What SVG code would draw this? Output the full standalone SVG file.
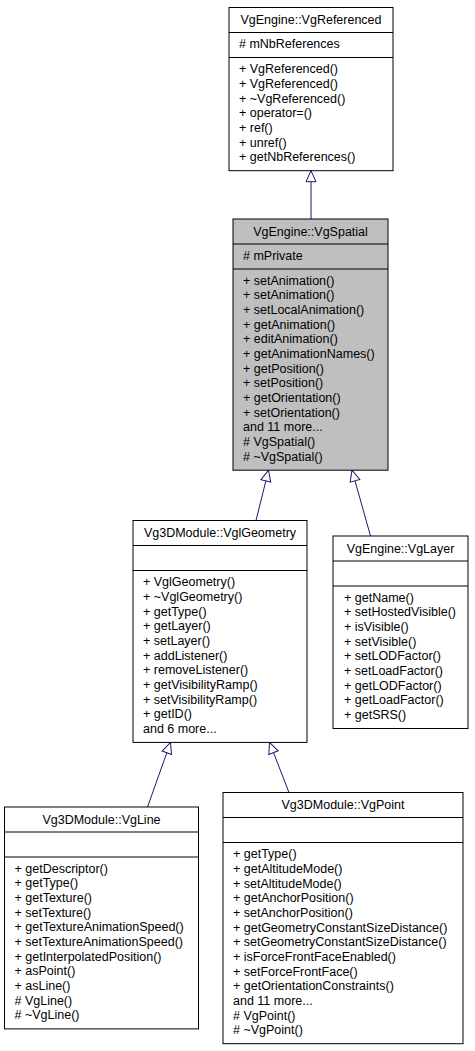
<svg xmlns="http://www.w3.org/2000/svg" width="475" height="1051" viewBox="0 0 475 1051">
<style>
.box{fill:#ffffff;stroke:#000000;stroke-width:1}
.hl{fill:#bfbfbf}
.sep{stroke:#000000;stroke-width:1}
text{font-family:"Liberation Sans",Arial,Helvetica,sans-serif;font-size:12.5px;fill:#000000}
.t{text-anchor:middle}
.edge{stroke:#191970;stroke-width:1;fill:none;marker-end:url(#tri)}
</style>
<defs>
<marker id="tri" viewBox="0 0 11 10" refX="11" refY="5" markerWidth="11" markerHeight="10" markerUnits="userSpaceOnUse" orient="auto" overflow="visible">
<path d="M0,0 L11,5 L0,10 Z" fill="#ffffff" stroke="#191970" stroke-width="1"/>
</marker>
</defs>
<rect width="475" height="1051" fill="#ffffff"/>

<g id="connectors">
<line class="edge" x1="311" y1="219" x2="311" y2="170.7"/>
<line class="edge" x1="256" y1="520.5" x2="268.5" y2="470.2"/>
<line class="edge" x1="370.5" y1="536" x2="352" y2="470.2"/>
<line class="edge" x1="147.5" y1="807" x2="170.5" y2="742.4"/>
<line class="edge" x1="289" y1="792.5" x2="269.5" y2="742.4"/>
</g>

<g id="VgReferenced">
<rect class="box" x="229" y="7.5" width="164" height="163.2"/>
<line class="sep" x1="229" y1="32.5" x2="393" y2="32.5"/>
<line class="sep" x1="229" y1="57.5" x2="393" y2="57.5"/>
<text class="t" x="311" y="24">VgEngine::VgReferenced</text>
<text x="239" y="48.2"># mNbReferences</text>
<text x="239" y="73.2">+ VgReferenced()</text>
<text x="239" y="87.87">+ VgReferenced()</text>
<text x="239" y="102.54">+ ~VgReferenced()</text>
<text x="239" y="117.21">+ operator=()</text>
<text x="239" y="131.88">+ ref()</text>
<text x="239" y="146.55">+ unref()</text>
<text x="239" y="161.22">+ getNbReferences()</text>
</g>

<g id="VgSpatial">
<rect class="box hl" x="233" y="219" width="155" height="251.2"/>
<line class="sep" x1="233" y1="244" x2="388" y2="244"/>
<line class="sep" x1="233" y1="269" x2="388" y2="269"/>
<text class="t" x="310.5" y="235.5">VgEngine::VgSpatial</text>
<text x="243" y="259.7"># mPrivate</text>
<text x="243" y="284.7">+ setAnimation()</text>
<text x="243" y="299.37">+ setAnimation()</text>
<text x="243" y="314.04">+ setLocalAnimation()</text>
<text x="243" y="328.71">+ getAnimation()</text>
<text x="243" y="343.38">+ editAnimation()</text>
<text x="243" y="358.05">+ getAnimationNames()</text>
<text x="243" y="372.72">+ getPosition()</text>
<text x="243" y="387.39">+ setPosition()</text>
<text x="243" y="402.06">+ getOrientation()</text>
<text x="243" y="416.73">+ setOrientation()</text>
<text x="243" y="431.4">and 11 more...</text>
<text x="243" y="446.07"># VgSpatial()</text>
<text x="243" y="460.74"># ~VgSpatial()</text>
</g>

<g id="VglGeometry">
<rect class="box" x="133" y="520.5" width="174" height="221.9"/>
<line class="sep" x1="133" y1="545.5" x2="307" y2="545.5"/>
<line class="sep" x1="133" y1="570.5" x2="307" y2="570.5"/>
<text class="t" x="220" y="537">Vg3DModule::VglGeometry</text>
<text x="143" y="586.2">+ VglGeometry()</text>
<text x="143" y="600.87">+ ~VglGeometry()</text>
<text x="143" y="615.54">+ getType()</text>
<text x="143" y="630.21">+ getLayer()</text>
<text x="143" y="644.88">+ setLayer()</text>
<text x="143" y="659.55">+ addListener()</text>
<text x="143" y="674.22">+ removeListener()</text>
<text x="143" y="688.89">+ getVisibilityRamp()</text>
<text x="143" y="703.56">+ setVisibilityRamp()</text>
<text x="143" y="718.23">+ getID()</text>
<text x="143" y="732.9">and 6 more...</text>
</g>

<g id="VgLayer">
<rect class="box" x="333" y="536" width="135" height="192.5"/>
<line class="sep" x1="333" y1="561" x2="468" y2="561"/>
<line class="sep" x1="333" y1="586" x2="468" y2="586"/>
<text class="t" x="400.5" y="552.5">VgEngine::VgLayer</text>
<text x="344" y="601.7">+ getName()</text>
<text x="344" y="616.37">+ setHostedVisible()</text>
<text x="344" y="631.04">+ isVisible()</text>
<text x="344" y="645.71">+ setVisible()</text>
<text x="344" y="660.38">+ setLODFactor()</text>
<text x="344" y="675.05">+ setLoadFactor()</text>
<text x="344" y="689.72">+ getLODFactor()</text>
<text x="344" y="704.39">+ getLoadFactor()</text>
<text x="344" y="719.06">+ getSRS()</text>
</g>

<g id="VgLine">
<rect class="box" x="4.5" y="807" width="194" height="221.9"/>
<line class="sep" x1="4.5" y1="832" x2="198.5" y2="832"/>
<line class="sep" x1="4.5" y1="857" x2="198.5" y2="857"/>
<text class="t" x="101.5" y="823.5">Vg3DModule::VgLine</text>
<text x="14.5" y="872.7">+ getDescriptor()</text>
<text x="14.5" y="887.37">+ getType()</text>
<text x="14.5" y="902.04">+ getTexture()</text>
<text x="14.5" y="916.71">+ setTexture()</text>
<text x="14.5" y="931.38">+ getTextureAnimationSpeed()</text>
<text x="14.5" y="946.05">+ setTextureAnimationSpeed()</text>
<text x="14.5" y="960.72">+ getInterpolatedPosition()</text>
<text x="14.5" y="975.39">+ asPoint()</text>
<text x="14.5" y="990.06">+ asLine()</text>
<text x="14.5" y="1004.73"># VgLine()</text>
<text x="14.5" y="1019.4"># ~VgLine()</text>
</g>

<g id="VgPoint">
<rect class="box" x="223" y="792.5" width="240" height="251.2"/>
<line class="sep" x1="223" y1="817.5" x2="463" y2="817.5"/>
<line class="sep" x1="223" y1="842.5" x2="463" y2="842.5"/>
<text class="t" x="343" y="809">Vg3DModule::VgPoint</text>
<text x="233" y="858.2">+ getType()</text>
<text x="233" y="872.87">+ getAltitudeMode()</text>
<text x="233" y="887.54">+ setAltitudeMode()</text>
<text x="233" y="902.21">+ getAnchorPosition()</text>
<text x="233" y="916.88">+ setAnchorPosition()</text>
<text x="233" y="931.55">+ getGeometryConstantSizeDistance()</text>
<text x="233" y="946.22">+ setGeometryConstantSizeDistance()</text>
<text x="233" y="960.89">+ isForceFrontFaceEnabled()</text>
<text x="233" y="975.56">+ setForceFrontFace()</text>
<text x="233" y="990.23">+ getOrientationConstraints()</text>
<text x="233" y="1004.9">and 11 more...</text>
<text x="233" y="1019.57"># VgPoint()</text>
<text x="233" y="1034.24"># ~VgPoint()</text>
</g>
</svg>
